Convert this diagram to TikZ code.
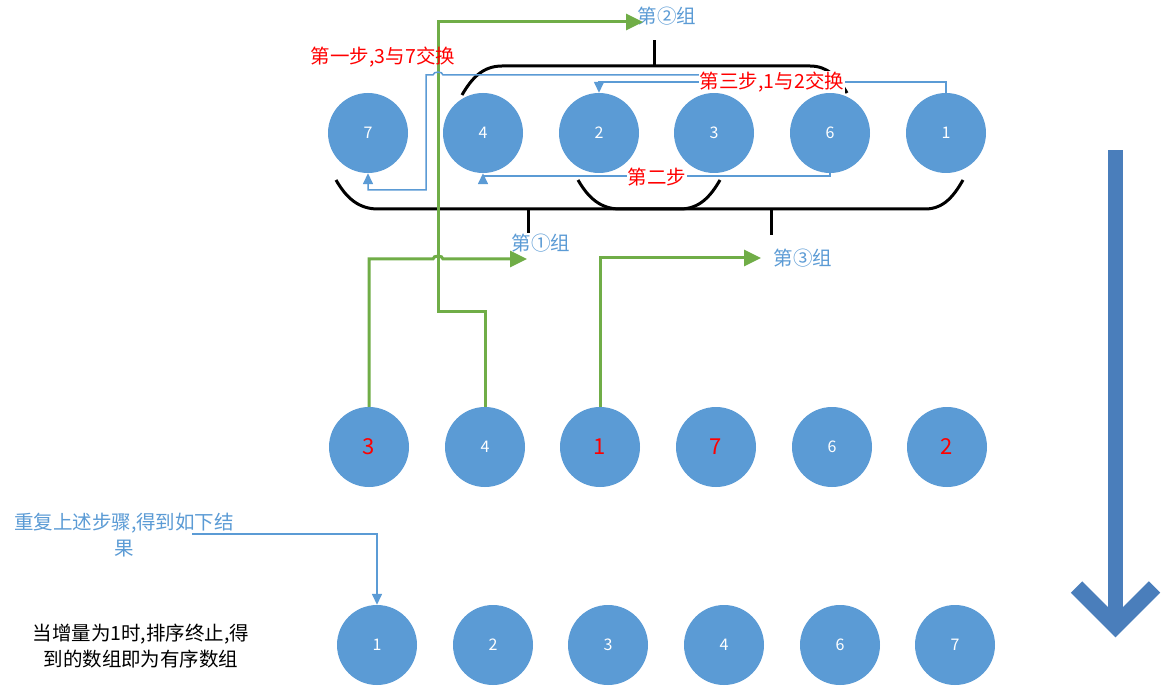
\documentclass[tikz,border=0pt]{standalone}
\usepackage{fontspec}
\setmainfont{Noto Sans CJK SC}
\usetikzlibrary{arrows.meta}
\definecolor{cblue}{RGB}{91,155,213}
\definecolor{cgreen}{RGB}{112,173,71}
\definecolor{bigblue}{RGB}{74,126,187}
\begin{document}
\begin{tikzpicture}[x=1pt,y=-1pt,
  circ/.style={circle,fill=cblue,minimum size=80pt,inner sep=0pt,text=white,font=\fontsize{16}{18}\selectfont},
  rednum/.style={text=red,font=\fontsize{22}{24}\selectfont},
  lbl/.style={font=\fontsize{19.5}{26}\selectfont,inner sep=1pt},
  redlbl/.style={lbl,text=red},
  bluelbl/.style={lbl,text=cblue},
  thinline/.style={draw=cblue,line width=1.5pt},
  thinarrow/.style={thinline,-{Triangle[length=11pt,width=10pt]}},
  garrow/.style={draw=cgreen,line width=3pt,-{Triangle[length=17pt,width=16pt]}},
  bracket/.style={draw=black,line width=3pt}
]
\useasboundingbox (0,0) rectangle (1168,695);
\fill[white] (0,0) rectangle (1168,695);

% brackets
\draw[bracket] (336,180) to[out=-60,in=180] (378,209) -- (680,209) to[out=0,in=-120] (720,180);
\draw[bracket] (578,180) to[out=-60,in=180] (620,209) -- (925,209) to[out=0,in=-120] (963,180);
\draw[bracket] (462,95) to[out=60,in=180] (502,66) -- (810,66) to[out=0,in=120] (847,93);
\draw[bracket] (528,209) -- (528,233);
\draw[bracket] (771,209) -- (771,235);
\draw[bracket] (654,66) -- (654,40);

% top row
\node[circ] (t1) at (368,133) {7};
\node[circ] (t2) at (483,133) {4};
\node[circ] (t3) at (599,133) {2};
\node[circ] (t4) at (714,133) {3};
\node[circ] (t5) at (830,133) {6};
\node[circ] (t6) at (946,133) {1};

% middle row
\node[circ,rednum] (m1) at (369,447) {3};
\node[circ] (m2) at (485,447) {4};
\node[circ,rednum] (m3) at (600,447) {1};
\node[circ,rednum] (m4) at (716,447) {7};
\node[circ] (m5) at (832,447) {6};
\node[circ,rednum] (m6) at (947,447) {2};

% bottom row
\node[circ] (b1) at (377,645) {1};
\node[circ] (b2) at (493,645) {2};
\node[circ] (b3) at (608,645) {3};
\node[circ] (b4) at (724,645) {4};
\node[circ] (b5) at (840,645) {6};
\node[circ] (b6) at (955,645) {7};

% group labels
\node[bluelbl] (l2) at (667,16) {第②组};
\node[bluelbl] (l1) at (541,243) {第①组};
\node[bluelbl] (l3) at (803,258) {第③组};

% green arrows
\coordinate (g1) at (527,259);
\coordinate (g2) at (643,22);
\coordinate (g3) at (761,258);
\draw[garrow] (m2.north) |- (438,311) |- (g2);
\draw[garrow] (m1.north) |- (433,259) to[out=90,in=90] (443,259) -- (g1);
\draw[garrow] (m3.north) |- (g3);

% step connectors
\draw[thinarrow] (t4.north) |- (443,75) to[out=90,in=90] (433,75) -- (426,75) -- (426,190) -| (t1.south);
\draw[thinarrow] (t5.south) -- ++(0,3) -| (t2.south);
\draw[thinarrow] (t6.north) -- ++(0,-11) -| (t3.north);

\node[redlbl] (s1) at (383,57) {第一步,3与7交换};
\node[redlbl,fill=white] (s2) at (657,177) {第二步};
\node[redlbl,fill=white] (s3) at (772,82) {第三步,1与2交换};

% bottom-left texts
\node[bluelbl,align=center] (rep) at (124,535) {重复上述步骤,得到如下结\\果};
\coordinate (r1) at (192,534);
\draw[thinarrow] (r1) -| (b1.north);
\node[lbl,align=center,text=black] (fin) at (141,646) {当增量为1时,排序终止,得\\到的数组即为有序数组};

% big arrow
\fill[bigblue] (1108,150) rectangle (1123,620);
\draw[bigblue,line width=16pt,line join=miter] (1076.5,587) -- (1115.5,626) -- (1154.5,587);
\end{tikzpicture}
\end{document}
